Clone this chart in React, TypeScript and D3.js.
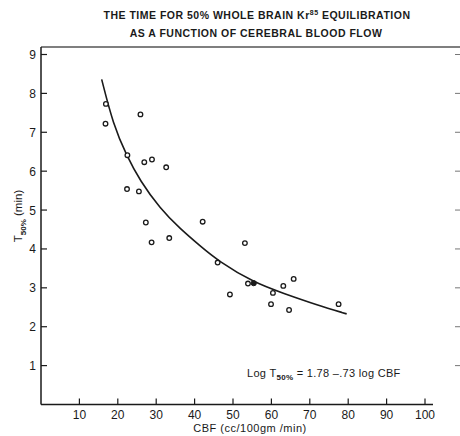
import React, { useEffect, useRef } from 'react';
import * as d3 from 'd3';

// CBF (cc/100gm/min) vs T50% (min)
const cbfValues = [16.9, 16.8, 25.9, 22.5, 26.9, 28.9, 32.6, 22.4, 25.5, 27.3, 42.1, 28.8, 33.4, 53.1, 46.0, 49.2, 53.9, 60.4, 63.1, 65.8, 59.9, 64.6, 77.5];
const t50Values = [7.73, 7.22, 7.46, 6.41, 6.23, 6.30, 6.10, 5.54, 5.48, 4.68, 4.70, 4.17, 4.28, 4.15, 3.65, 2.83, 3.11, 2.87, 3.05, 3.23, 2.58, 2.43, 2.58];
const filledCbf = [55.4];
const filledT50 = [3.12];

// fitted curve
const curveCbf = [15.8, 18.8, 22.3, 25.8, 31.0, 36.2, 41.4, 46.0, 55.5, 63.1, 71.8, 79.6];
const curveT50 = [8.36, 7.2, 6.4, 5.75, 5.04, 4.52, 4.08, 3.70, 3.13, 2.86, 2.56, 2.33];

const xTicks = [10, 20, 30, 40, 50, 60, 70, 80, 90, 100];
const yTicks = [1, 2, 3, 4, 5, 6, 7, 8, 9];

const App = () => {
  const svgRef = useRef(null);

  useEffect(() => {
    const svg = d3.select(svgRef.current);
    svg.selectAll('*').remove();

    const left = 41;
    const bottom = 404.5;
    const top = 47;
    const xScale = d3.scaleLinear().domain([0, 100]).range([left, left + 384]);
    const yScale = d3.scaleLinear().domain([0, 9]).range([bottom, bottom - 350]);
    const ink = '#1a1a1a';
    const font = 'Liberation Sans, Arial, sans-serif';

    // title
    const title = svg.append('g').attr('font-family', font).attr('font-size', 10.5).attr('font-weight', 'bold')
      .attr('fill', ink).attr('text-anchor', 'middle').attr('letter-spacing', 0.5);
    const t1 = title.append('text').attr('x', 257).attr('y', 19);
    t1.append('tspan').text('THE TIME FOR 50% WHOLE BRAIN Kr');
    t1.append('tspan').attr('dy', -4).attr('font-size', 7).text('85');
    t1.append('tspan').attr('dy', 4).text(' EQUILIBRATION');
    title.append('text').attr('x', 256).attr('y', 37).text('AS A FUNCTION OF CEREBRAL BLOOD FLOW');

    // frame
    svg.append('line').attr('x1', left).attr('x2', 460).attr('y1', top).attr('y2', top).attr('stroke', '#555').attr('stroke-width', 1.5);
    svg.append('line').attr('x1', left).attr('x2', left).attr('y1', top).attr('y2', bottom).attr('stroke', ink).attr('stroke-width', 1.5);
    svg.append('line').attr('x1', left).attr('x2', 433).attr('y1', bottom).attr('y2', bottom).attr('stroke', ink).attr('stroke-width', 1.5);

    // x ticks
    const xg = svg.append('g').attr('font-family', font).attr('font-size', 12).attr('fill', ink);
    xTicks.forEach((v) => {
      xg.append('line').attr('x1', xScale(v)).attr('x2', xScale(v)).attr('y1', bottom).attr('y2', bottom - 6).attr('stroke', ink).attr('stroke-width', 1.2);
      xg.append('text').attr('x', xScale(v)).attr('y', 419).attr('text-anchor', 'middle').text(v);
    });

    // y ticks
    const yg = svg.append('g').attr('font-family', font).attr('font-size', 12).attr('fill', ink);
    yTicks.forEach((v) => {
      yg.append('line').attr('x1', left).attr('x2', left + 6).attr('y1', yScale(v)).attr('y2', yScale(v)).attr('stroke', ink).attr('stroke-width', 1.2);
      yg.append('line').attr('x1', 455).attr('x2', 460).attr('y1', yScale(v)).attr('y2', yScale(v)).attr('stroke', '#777').attr('stroke-width', 1);
      yg.append('text').attr('x', 36).attr('y', yScale(v) + 4.5).attr('text-anchor', 'end').text(v);
    });

    // axis labels
    svg.append('text').attr('x', 250).attr('y', 432).attr('text-anchor', 'middle')
      .attr('font-family', font).attr('font-size', 11).attr('fill', ink).attr('letter-spacing', 0.5)
      .text('CBF (cc/100gm /min)');

    const yl = svg.append('text').attr('transform', 'translate(22,216) rotate(-90)').attr('text-anchor', 'middle')
      .attr('font-family', font).attr('font-size', 11.5).attr('fill', ink);
    yl.append('tspan').text('T');
    yl.append('tspan').attr('dy', 4).attr('font-size', 8).attr('font-weight', 'bold').text('50%');
    yl.append('tspan').attr('dy', -4).text('  (min)');

    // fitted curve
    const line = d3.line().curve(d3.curveBasis)
      .x((d) => xScale(d[0])).y((d) => yScale(d[1]));
    svg.append('path').datum(curveCbf.map((c, i) => [c, curveT50[i]]))
      .attr('d', line).attr('fill', 'none').attr('stroke', ink).attr('stroke-width', 1.6);

    // data points
    svg.append('g').selectAll('circle').data(cbfValues.map((c, i) => [c, t50Values[i]])).enter()
      .append('circle').attr('cx', (d) => xScale(d[0])).attr('cy', (d) => yScale(d[1])).attr('r', 2.3)
      .attr('fill', 'white').attr('stroke', ink).attr('stroke-width', 1.3);
    svg.append('g').selectAll('circle').data(filledCbf.map((c, i) => [c, filledT50[i]])).enter()
      .append('circle').attr('cx', (d) => xScale(d[0])).attr('cy', (d) => yScale(d[1])).attr('r', 2.6)
      .attr('fill', ink).attr('stroke', ink).attr('stroke-width', 1);

    // equation
    const eq = svg.append('text').attr('x', 247).attr('y', 377)
      .attr('font-family', font).attr('font-size', 11).attr('fill', ink).attr('letter-spacing', 0.3);
    eq.append('tspan').text('Log T');
    eq.append('tspan').attr('dy', 3).attr('font-size', 8).attr('font-weight', 'bold').text('50%');
    eq.append('tspan').attr('dy', -3).text(' = 1.78 –.73 log CBF');
  }, []);

  return (
    <svg ref={svgRef} width={460} height={436} style={{ position: 'absolute', left: 0, top: 0, background: '#fff' }} />
  );
};

export default App;
